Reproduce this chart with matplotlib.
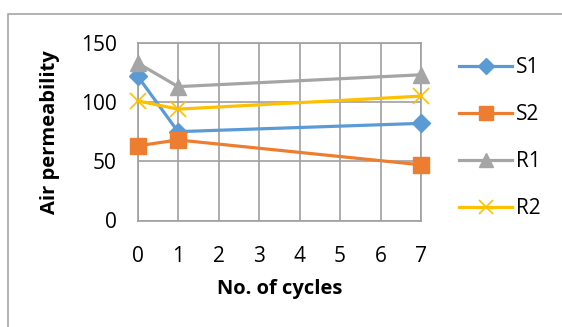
import matplotlib
matplotlib.use("Agg")
import matplotlib.pyplot as plt
from matplotlib.patches import Rectangle

plt.rcParams["font.family"] = ["Open Sans", "DejaVu Sans"]

cycles = [0, 1, 7]
x_ticks = [0, 1, 2, 3, 4, 5, 6, 7]
s1 = [122, 75, 82]
s2 = [63, 68, 47]
r1 = [133, 113, 123]
r2 = [101, 94, 105]

series = [
    ("S1", s1, dict(color="#5B9BD5", marker="D", ms=9)),
    ("S2", s2, dict(color="#ED7D31", marker="s", ms=12)),
    ("R1", r1, dict(color="#A5A5A5", marker="^", ms=12)),
    ("R2", r2, dict(color="#FFC000", marker="x", ms=12, mew=1.2)),
]

W, H = 562, 327
fig = plt.figure(figsize=(W / 100, H / 100), dpi=100)
ax = fig.add_axes([137.5 / W, 1 - 220.5 / H, (421 - 137.5) / W, (220.5 - 42.8) / H])

# chart frame (light gray, cut off at right and bottom)
fig.patches.append(Rectangle((7.5 / W, -0.05), 1.2, 1 - 13.5 / H + 0.05,
                             transform=fig.transFigure, fill=False,
                             ec="#A6A6A6", lw=1.2, zorder=0))

for name, vals, st in series:
    ax.plot(cycles, vals, lw=2.3, label=name, clip_on=False, zorder=3, **st)

ax.set_xlim(0, 7)
ax.set_ylim(0, 150)
ax.set_xticks(x_ticks)
ax.set_yticks([0, 50, 100, 150])
ax.grid(True, color="#A0A0A0", lw=1.2)
ax.set_axisbelow(True)
for sp in ax.spines.values():
    sp.set_color("#A0A0A0")
    sp.set_linewidth(1.2)
ax.tick_params(length=0, labelsize=15)
ax.tick_params(axis="x", pad=18)
ax.tick_params(axis="y", pad=15)
ax.set_xlabel("No. of cycles", fontsize=14.5, fontweight="bold", labelpad=9)
ax.set_ylabel("Air permeability", fontsize=14.5, fontweight="bold", labelpad=15)

ax.legend(loc="upper left", bbox_to_anchor=(459 / W, 1 - 57 / H),
          bbox_transform=fig.transFigure, frameon=False, borderpad=0,
          borderaxespad=0, fontsize=15, handlelength=2.55, labelspacing=1.25,
          handletextpad=0.2, markerscale=0.85)

fig.savefig("out.png", dpi=100, facecolor="white")
